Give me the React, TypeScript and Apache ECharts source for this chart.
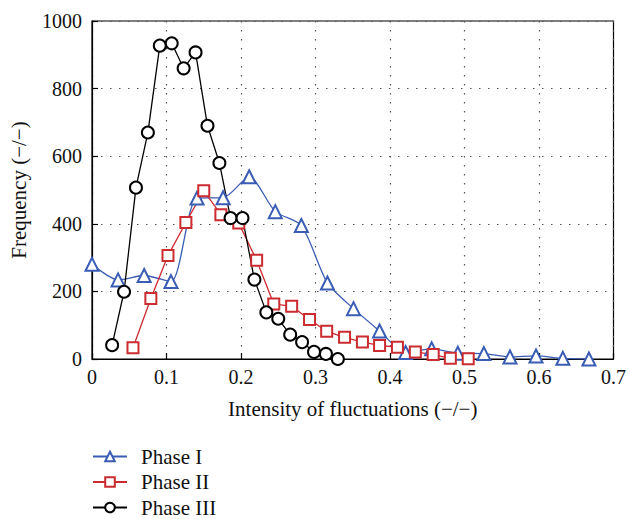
import React, { useEffect, useRef } from "react";
import * as echarts from "echarts";

const phase1X = [0, 0.035, 0.07, 0.106, 0.141, 0.176, 0.211, 0.246, 0.281, 0.316, 0.351, 0.386, 0.421, 0.456, 0.491, 0.526, 0.561, 0.596, 0.632, 0.667];
const phase1Y = [280, 234, 247, 229, 476, 477, 539, 436, 395, 225, 149, 83, 19, 30, 17, 16, 6, 9, 2, 0];

const phase2X = [0.055, 0.079, 0.102, 0.126, 0.15, 0.173, 0.197, 0.221, 0.244, 0.268, 0.292, 0.315, 0.339, 0.363, 0.386, 0.41, 0.434, 0.458, 0.481, 0.505];
const phase2Y = [33, 179, 306, 404, 498, 427, 402, 292, 163, 156, 117, 82, 64, 50, 40, 35, 21, 13, 2, 1];

const phase3X = [0.027, 0.043, 0.059, 0.075, 0.091, 0.107, 0.123, 0.139, 0.155, 0.171, 0.186, 0.202, 0.218, 0.234, 0.25, 0.266, 0.282, 0.298, 0.314, 0.33];
const phase3Y = [41, 199, 507, 670, 927, 934, 860, 907, 690, 580, 417, 417, 235, 138, 119, 72, 50, 21, 15, 0];

const seriesNames = ["Phase I", "Phase II", "Phase III"];
const xTicks = { min: 0, max: 0.7, interval: 0.1 };
const yTicks = { min: 0, max: 1000, interval: 200 };

const FONT = "Liberation Serif";

export default function App() {
  const ref = useRef<HTMLDivElement>(null);
  useEffect(() => {
    if (!ref.current) return;
    const chart = echarts.init(ref.current, null, { renderer: "svg" });
    const zip = (xs: number[], ys: number[]) => xs.map((x, i) => [x, ys[i]]);
    const grid = "#555";
    chart.setOption({
      animation: false,
      backgroundColor: "#fff",
      textStyle: { fontFamily: FONT },
      grid: {
        left: 92,
        top: 21,
        right: 14,
        bottom: 160,
        show: true,
        borderColor: "#000",
        borderWidth: 1.2,
      },
      xAxis: {
        type: "value",
        min: xTicks.min,
        max: xTicks.max,
        interval: xTicks.interval,
        name: "Intensity of fluctuations (\u2212/\u2212)",
        nameLocation: "middle",
        nameGap: 39,
        nameTextStyle: { fontFamily: FONT, fontSize: 21, color: "#111" },
        axisLine: { lineStyle: { color: "#000", width: 1.2 } },
        axisTick: { inside: true, length: 6, lineStyle: { color: "#000", width: 1.2 } },
        axisLabel: { fontFamily: FONT, fontSize: 20, color: "#111", margin: 8, formatter: (v: number) => String(v) },
        splitLine: { show: true, lineStyle: { type: [1.5, 7.5], color: grid, width: 1.2 } },
      },
      yAxis: {
        type: "value",
        min: yTicks.min,
        max: yTicks.max,
        interval: yTicks.interval,
        name: "Frequency (\u2212/\u2212)",
        nameLocation: "middle",
        nameGap: 63,
        nameRotate: 90,
        nameTextStyle: { fontFamily: FONT, fontSize: 21, color: "#111" },
        axisLine: { show: true, lineStyle: { color: "#000", width: 1.2 } },
        axisTick: { show: true, inside: true, length: 6, lineStyle: { color: "#000", width: 1.2 } },
        axisLabel: { fontFamily: FONT, fontSize: 20, color: "#111", margin: 10, formatter: (v: number) => String(v) },
        splitLine: { show: true, lineStyle: { type: [1.5, 7.5], color: grid, width: 1.2 } },
      },
      legend: {
        orient: "vertical",
        left: 92,
        top: 446,
        height: 120,
        padding: 0,
        itemWidth: 34,
        itemHeight: 12,
        itemGap: 4.5,
        data: seriesNames,
        textStyle: { fontFamily: FONT, fontSize: 21, color: "#111", padding: [0, 0, 0, 9] },
      },
      series: [
        {
          name: seriesNames[0],
          type: "line",
          data: zip(phase1X, phase1Y),
          smooth: 0.25,
          symbol: "emptyTriangle",
          symbolSize: 13,
          color: "#3a5cb4",
          lineStyle: { width: 1.3, color: "#3a5cb4" },
          itemStyle: { borderWidth: 1.5, color: "#3a5cb4" },
        },
        {
          name: seriesNames[1],
          type: "line",
          data: zip(phase2X, phase2Y),
          symbol: "emptyRect",
          symbolSize: 11,
          color: "#cc2b30",
          lineStyle: { width: 1.3, color: "#cc2b30" },
          itemStyle: { borderWidth: 1.5, color: "#cc2b30" },
        },
        {
          name: seriesNames[2],
          type: "line",
          data: zip(phase3X, phase3Y),
          symbol: "emptyCircle",
          symbolSize: 12,
          color: "#000",
          lineStyle: { width: 1.3, color: "#000" },
          itemStyle: { borderWidth: 1.4, color: "#000" },
        },
      ],
    });
    return () => chart.dispose();
  }, []);
  return (
    <div
      ref={ref}
      style={{ position: "absolute", left: 0, top: 0, width: 629, height: 519 }}
    />
  );
}
